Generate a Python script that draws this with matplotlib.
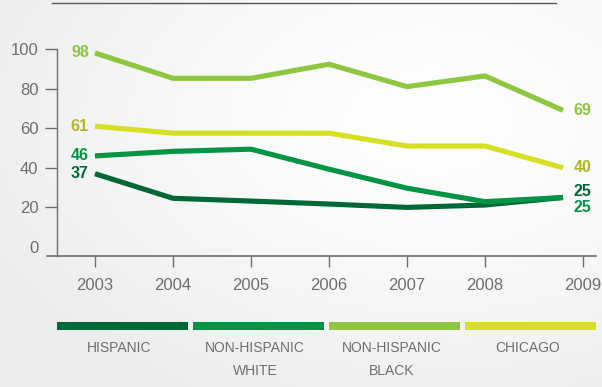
import numpy as np
import matplotlib
matplotlib.use("Agg")
import matplotlib.pyplot as plt
from matplotlib.lines import Line2D
from matplotlib.transforms import ScaledTranslation

plt.rcParams['font.family'] = ['Liberation Sans', 'DejaVu Sans']

# ---- data -------------------------------------------------------------
years = [2003, 2004, 2005, 2006, 2007, 2008, 2009]
hispanic = [37, 24.6, 23.2, 21.7, 20.0, 21.2, 25]
non_hispanic_white = [46, 48.3, 49.4, 39.3, 29.7, 22.9, 25]
non_hispanic_black = [98, 85.2, 85.2, 92.3, 81.0, 86.4, 69]
chicago = [61, 57.5, 57.5, 57.5, 51.0, 51.0, 40]

series_names = ["HISPANIC", "NON-HISPANIC\nWHITE", "NON-HISPANIC\nBLACK", "CHICAGO"]
y_ticks = [0, 20, 40, 60, 80, 100]

# ---- styling ----------------------------------------------------------
line_colors = ["#006837", "#009444", "#8dc63f", "#d7df23"]
label_colors = ["#006837", "#009444", "#8dc63f", "#b3b52a"]
axis_gray = "#6d6e71"
text_gray = "#6d6e71"

W, H, DPI = 602, 387, 100
fig = plt.figure(figsize=(W / DPI, H / DPI), dpi=DPI)

# soft radial background
bg = fig.add_axes([0, 0, 1, 1], zorder=-10)
yy, xx = np.mgrid[0:H, 0:W]
d = np.sqrt(((xx - 430) / 500.0) ** 2 + ((yy - 120) / 320.0) ** 2)
t = np.clip(d, 0, 1) ** 1.3
c0 = np.array([1.0, 1.0, 1.0])
c1 = np.array([0xeb, 0xec, 0xec]) / 255.0
img = c0[None, None, :] * (1 - t[..., None]) + c1[None, None, :] * t[..., None]
bg.imshow(img, extent=[0, W, H, 0], aspect='auto', interpolation='bilinear')
bg.set_xlim(0, W)
bg.set_ylim(H, 0)
bg.axis('off')

# pixel helpers for layout
def fx(px):
    return px / W

def fy(py):
    return 1 - py / H

# main plot area (pixels): left spine x=57, top (100) y=49, bottom line y=256
left_px, right_px = 57.3, 596.0
top_px, bottom_px = 49.0, 256.0
ax = fig.add_axes([fx(left_px), fy(bottom_px), fx(right_px) - fx(left_px),
                   fy(top_px) - fy(bottom_px)])
ax.patch.set_alpha(0)

px_per_year = 78.0
x0 = years[0] - (95.0 - left_px) / px_per_year
x1 = years[-1] + (right_px - 563.0) / px_per_year
ax.set_xlim(x0, x1)
px_per_unit = 1.979
y_bottom = -(bottom_px - 247.0) / px_per_unit
ax.set_ylim(y_bottom, 100)

all_series = [hispanic, non_hispanic_white, non_hispanic_black, chicago]
order = [2, 3, 1, 0]
for i in order:
    ax.plot(years, all_series[i], color=line_colors[i], lw=3.7,
            solid_joinstyle='miter', solid_capstyle='butt', clip_on=False,
            zorder=3 + i)

# end labels
end_offsets = [4.5, -7.5, 0, 0]
for i, vals in enumerate(all_series):
    ax.annotate(f"{vals[0]:g}", xy=(years[0], vals[0]), xytext=(-4.5, 0),
                textcoords='offset points', ha='right', va='center',
                fontsize=11.5, fontweight='bold', color=label_colors[i],
                annotation_clip=False)
    ax.annotate(f"{vals[-1]:g}", xy=(years[-1], vals[-1]),
                xytext=(7.5, end_offsets[i]), textcoords='offset points',
                ha='left', va='center', fontsize=11.5, fontweight='bold',
                color=label_colors[i], annotation_clip=False)

# axes / spines
for s in ['top', 'right']:
    ax.spines[s].set_visible(False)
ax.spines['left'].set_color(axis_gray)
ax.spines['left'].set_linewidth(1.0)
ax.spines['left'].set_bounds(y_bottom, 100)
ax.spines['bottom'].set_color(axis_gray)
ax.spines['bottom'].set_linewidth(1.2)
ax.spines['bottom'].set_bounds(x0 - 10.6 / px_per_year, x1)

ax.set_yticks(y_ticks)
ax.set_yticklabels([str(v) for v in y_ticks])
ax.set_xticks(years)
ax.set_xticklabels([str(y) for y in years])
ax.tick_params(axis='y', length=8.3, width=1.0, color=axis_gray, pad=5.3,
               labelsize=12, labelcolor=text_gray)
ax.tick_params(axis='x', length=8.0, width=1.0, color=axis_gray, pad=7.5,
               labelsize=12, labelcolor=text_gray)

# the zero row carries a label but no tick mark
ax.yaxis.get_major_ticks()[0].tick1line.set_visible(False)

# the final year tick sits a little right of the last vertex
last_tick = ax.xaxis.get_major_ticks()[-1]
shift = ScaledTranslation(20 / DPI, 0, fig.dpi_scale_trans)
last_tick.tick1line.set_transform(last_tick.tick1line.get_transform() + shift)
last_tick.label1.set_transform(last_tick.label1.get_transform() + shift)

# rule across the top
fig.add_artist(Line2D([fx(52), fx(556)], [fy(3.3), fy(3.3)], color="#58595b",
                      lw=1.0, transform=fig.transFigure))

# legend bars with captions underneath
bar_left = [56.8, 192.7, 329.0, 465.0]
bar_w = 131.0
for i, name in enumerate(series_names):
    lx = fx(bar_left[i])
    fig.add_artist(plt.Rectangle((lx, fy(329.5)), fx(bar_w), (7.5 / H),
                                 transform=fig.transFigure,
                                 color=line_colors[i], lw=0))
    fig.text(fx(bar_left[i] + bar_w / 2 - 3), fy(341.5), name, ha='center',
             va='top', fontsize=10, color=text_gray, linespacing=1.75)

fig.savefig("out.png", dpi=DPI)
